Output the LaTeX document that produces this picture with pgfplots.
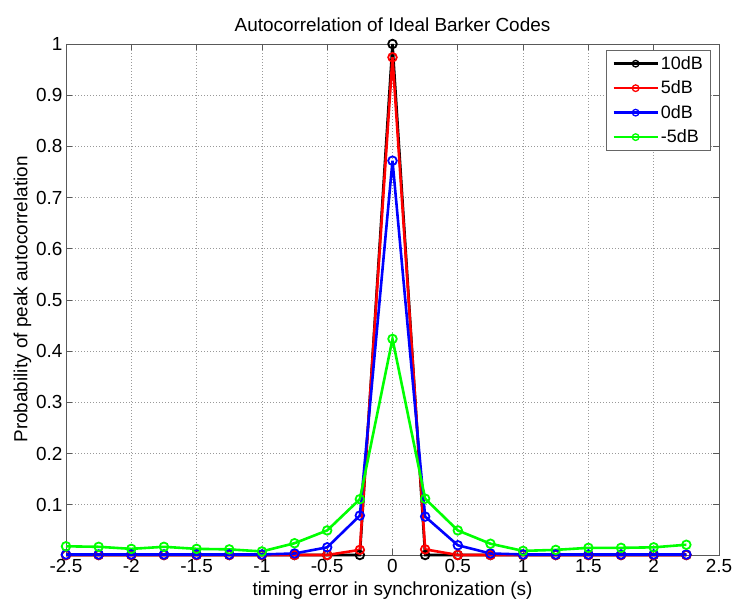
\documentclass[border=0pt]{standalone}
\usepackage{pgfplots}
\pgfplotsset{compat=1.18}
\usepackage{fontspec}
\setmainfont{Liberation Sans}
\begin{document}
\begin{tikzpicture}
\begin{axis}[
  at={(0,0)}, anchor=south west,
  scale only axis, width=653bp, height=511bp,
  xmin=-2.5, xmax=2.5, ymin=0.002, ymax=1,
  xtick={-2.5,-2,...,2.5},
  ytick={0.1,0.2,0.3,0.4,0.5,0.6,0.7,0.8,0.9,1},
  xticklabels={-2.5,-2,-1.5,-1,-0.5,0,0.5,1,1.5,2,2.5},
  yticklabels={0.1,0.2,0.3,0.4,0.5,0.6,0.7,0.8,0.9,1},
  tick align=inside, major tick length=6bp,
  tick style={black!65, line width=0.7bp},
  axis line style={black!65, line width=0.7bp},
  grid=major, grid style={dash pattern=on 1bp off 2bp, black!40, line width=0.7bp},
  ticklabel style={font=\fontsize{19}{21}\selectfont},
  xticklabel style={yshift=-1bp},
  title={Autocorrelation of Ideal Barker Codes},
  title style={font=\fontsize{19}{21}\selectfont, yshift=3bp},
  xlabel={timing error in synchronization (s)},
  ylabel={Probability of peak autocorrelation},
  label style={font=\fontsize{19}{21}\selectfont},
  xlabel style={yshift=-2.5bp},
  ylabel style={yshift=-2bp},
  clip=false,
  every axis plot/.append style={line width=2.6bp, mark=o, mark size=4.3bp, mark options={line width=1.8bp}},
  legend style={at={(0.988,0.988)}, anchor=north east, draw=black!60, line width=0.7bp,
    font=\fontsize{18}{20}\selectfont, row sep=6bp, inner xsep=6bp, inner ysep=4bp},
  legend cell align=left,
  legend image code/.code={\draw[line width=2.6bp, mark size=3.3bp, mark options={line width=1.3bp}, mark repeat=2,mark phase=2] plot coordinates {(0bp,0bp) (22bp,0bp) (44bp,0bp)};},
]
\addplot[black] coordinates {
(-2.5,0.002)(-2.25,0.002)(-2,0.002)(-1.75,0.002)(-1.5,0.002)(-1.25,0.002)(-1,0.002)(-0.75,0.002)(-0.5,0.002)(-0.25,0.002)
(0,1.0)(0.25,0.002)(0.5,0.002)(0.75,0.002)(1,0.002)(1.25,0.002)(1.5,0.002)(1.75,0.002)(2,0.002)(2.25,0.002)};
\addplot[red] coordinates {
(-2.5,0.002)(-2.25,0.002)(-2,0.002)(-1.75,0.002)(-1.5,0.002)(-1.25,0.002)(-1,0.002)(-0.75,0.002)(-0.5,0.002)(-0.25,0.012)
(0,0.974)(0.25,0.013)(0.5,0.002)(0.75,0.002)(1,0.002)(1.25,0.002)(1.5,0.002)(1.75,0.002)(2,0.002)(2.25,0.002)};
\addplot[blue] coordinates {
(-2.5,0.003)(-2.25,0.003)(-2,0.003)(-1.75,0.003)(-1.5,0.003)(-1.25,0.003)(-1,0.003)(-0.75,0.005)(-0.5,0.017)(-0.25,0.079)
(0,0.772)(0.25,0.077)(0.5,0.021)(0.75,0.005)(1,0.003)(1.25,0.003)(1.5,0.003)(1.75,0.003)(2,0.003)(2.25,0.003)};
\addplot[green] coordinates {
(-2.5,0.019)(-2.25,0.018)(-2,0.014)(-1.75,0.018)(-1.5,0.014)(-1.25,0.013)(-1,0.009)(-0.75,0.025)(-0.5,0.050)(-0.25,0.111)
(0,0.424)(0.25,0.112)(0.5,0.050)(0.75,0.024)(1,0.010)(1.25,0.012)(1.5,0.016)(1.75,0.016)(2,0.017)(2.25,0.022)};
\legend{10dB,5dB,0dB,-5dB}
\end{axis}
\pgfresetboundingbox
\path (-66bp,-46bp) rectangle (666bp,555bp);
\end{tikzpicture}
\end{document}
